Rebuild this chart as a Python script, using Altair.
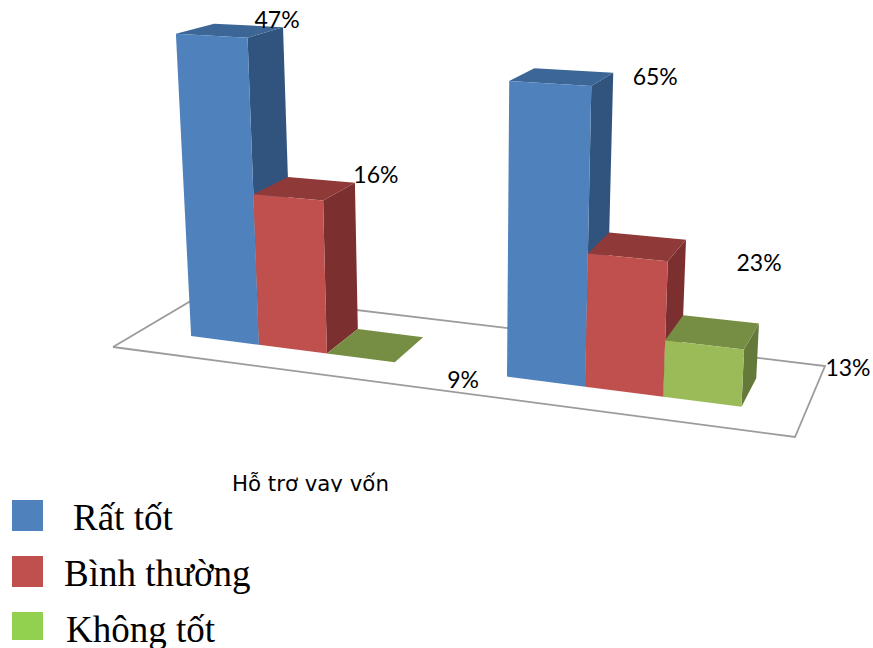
import altair as alt
import numpy as np
import pandas as pd

# Survey results for one category, two respondent groups drawn side by side
category = "Hỗ trợ vay vốn"
series = ["Rất tốt", "Bình thường", "Không tốt"]
group_a = [47, 16, 9]
group_b = [65, 23, 13]

front_colors = ["#4F81BD", "#C0504D", "#9BBB59"]
top_colors = ["#3C6696", "#8F3A38", "#768E44"]
side_colors = ["#30547E", "#7B2F2E", "#64793A"]
legend_colors = ["#4F81BD", "#C0504D", "#92D050"]

W, H = 873, 648

# Floor of the 3D scene: front-left, front-right, back-right, back-left
FLOOR = np.array([[113, 347], [795, 437], [825, 366], [206, 292]], dtype=float)
V_FRONT, V_BACK = 0.313, 0.723

# Each group has its own non-linear value scale, as the scene's value axis is not uniform
VALUE_SCALES = [
    (group_a, ([9, 16, 47], [0, 152, 310]), 0.074, 0.1025),
    (group_b, ([13, 23, 65], [52, 125, 282]), 0.551, 0.118),
]


def floor_point(u, v):
    front = FLOOR[0] + (FLOOR[1] - FLOOR[0]) * u
    back = FLOOR[3] + (FLOOR[2] - FLOOR[3]) * u
    return front + (back - front) * v


def project(u, v, h):
    """Perspective-like projection of a floor position raised by height h."""
    x, y = floor_point(u, v)
    scale = 1 + 0.0018 * (y - 350)
    lean = 0.00018 * x - 0.0835
    return x + h * lean, y - h * scale


rows = []
corners = []
poly = 0


def add_face(points, color):
    global poly
    poly += 1
    for i, (u, v, h) in enumerate(points + points[:1]):
        x, y = project(u, v, h)
        rows.append({"poly": poly, "seq": i, "x": x, "y": y, "color": color})


for values, (dom, rng), start, width in VALUE_SCALES:
    for s, val in enumerate(values):
        h = float(np.interp(val, dom, rng))
        u0, u1 = start + s * width, start + (s + 1) * width
        add_face([(u1, V_FRONT, 0), (u1, V_BACK, 0), (u1, V_BACK, h), (u1, V_FRONT, h)], side_colors[s])
        add_face([(u0, V_FRONT, h), (u1, V_FRONT, h), (u1, V_BACK, h), (u0, V_BACK, h)], top_colors[s])
        if h > 0:
            add_face([(u0, V_FRONT, 0), (u1, V_FRONT, 0), (u1, V_FRONT, h), (u0, V_FRONT, h)], front_colors[s])
        corners.append(project(u1, V_BACK, h))

x_scale = alt.Scale(domain=[0, W], nice=False, zero=False)
y_scale = alt.Scale(domain=[H, 0], nice=False, zero=False)
X = alt.X("x:Q", scale=x_scale, axis=None)
Y = alt.Y("y:Q", scale=y_scale, axis=None)

floor_rows = [
    {"seq": i, "x": p[0], "y": p[1]} for i, p in enumerate(list(FLOOR) + [FLOOR[0]])
]
floor = (
    alt.Chart(pd.DataFrame(floor_rows))
    .mark_line(color="#9C9C9C", strokeWidth=1.8)
    .encode(x=X, y=Y, order="seq:Q")
)

faces = (
    alt.Chart(pd.DataFrame(rows))
    .mark_line(filled=True)
    .encode(
        x=X,
        y=Y,
        order="seq:Q",
        detail="poly:N",
        color=alt.Color("color:N", scale=None, legend=None),
    )
)

# Percent labels sit at a fixed offset from each bar's rear top corner
label_offsets = [(-6, -6), (21, -7), (40, 44), (42, 5), (73, 24), (89, 45)]
all_values = group_a + group_b
label_df = pd.DataFrame(
    {
        "x": [c[0] + o[0] for c, o in zip(corners, label_offsets)],
        "y": [c[1] + o[1] for c, o in zip(corners, label_offsets)],
        "label": [f"{v}%" for v in all_values],
    }
)
labels = (
    alt.Chart(label_df)
    .mark_text(font="Lato", fontSize=23, color="black", align="center", baseline="middle")
    .encode(x=X, y=Y, text="label:N")
)

cat_label = (
    alt.Chart(pd.DataFrame({"x": [232], "y": [491], "label": [category]}))
    .mark_text(font="DejaVu Sans", fontSize=21.3, color="black", align="left", baseline="alphabetic")
    .encode(x=X, y=Y, text="label:N")
)
# The caption's descenders are cut off by the box it sat in
cat_mask = (
    alt.Chart(pd.DataFrame({"x": [225], "x2": [400], "y": [492], "y2": [500]}))
    .mark_rect(color="white")
    .encode(x=X, x2="x2:Q", y=Y, y2="y2:Q")
)

legend_df = pd.DataFrame(
    {
        "name": series,
        "color": legend_colors,
        "x": [12, 12, 12],
        "x2": [43, 43, 43],
        "y": [500, 556, 612],
        "y2": [531, 587, 640],
        "tx": [73, 64, 66],
        "ty": [530, 586, 642],
    }
)
legend_boxes = (
    alt.Chart(legend_df)
    .mark_rect()
    .encode(
        x=X,
        x2="x2:Q",
        y=Y,
        y2="y2:Q",
        color=alt.Color("color:N", scale=None, legend=None),
    )
)
legend_text = (
    alt.Chart(legend_df)
    .mark_text(font="Liberation Serif", fontSize=37, color="black", align="left", baseline="alphabetic")
    .encode(
        x=alt.X("tx:Q", scale=x_scale, axis=None),
        y=alt.Y("ty:Q", scale=y_scale, axis=None),
        text="name:N",
    )
)

chart = (
    alt.layer(floor, faces, labels, cat_label, cat_mask, legend_boxes, legend_text)
    .properties(width=W, height=H, padding=0, autosize=alt.AutoSizeParams(type="none"), background="white")
    .configure_view(stroke=None)
)

chart.save("out.html", embed_options={"renderer": "svg", "actions": False})
